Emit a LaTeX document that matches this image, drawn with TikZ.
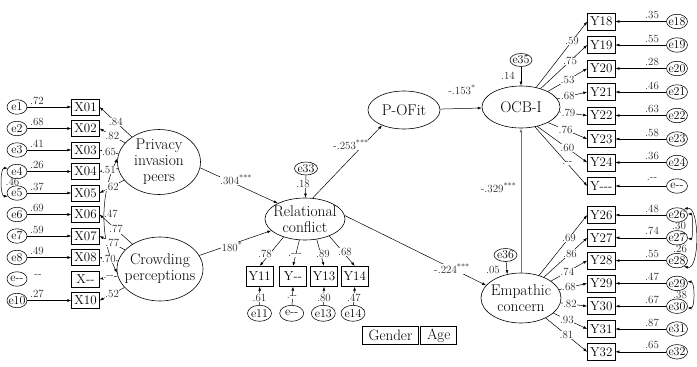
\documentclass[tikz,border=0pt]{standalone}
\usetikzlibrary{shapes.geometric,arrows.meta}
\begin{document}
\begin{tikzpicture}[x=1pt,y=-1pt,
  >={Latex[length=4pt,width=2.8pt]},
  lat/.style={draw, ellipse, inner sep=0pt, line width=0.6pt},
  lt/.style={font=\fontsize{15.5}{16}\selectfont, align=center, inner sep=0pt},
  obs/.style={draw, rectangle, inner sep=0pt, minimum width=27.5pt, minimum height=16pt, line width=0.6pt, font=\fontsize{13}{13}\selectfont},
  errn/.style={draw, ellipse, inner sep=0pt, minimum width=21pt, minimum height=14.5pt, line width=0.55pt, font=\fontsize{12}{12}\selectfont},
  coef/.style={font=\fontsize{11}{11}\selectfont, inner sep=0.4pt, text=black!85},
  coefw/.style={coef, fill=white},
  arr/.style={->, line width=0.5pt},
  darr/.style={<->, line width=0.5pt},
  grayarr/.style={->, line width=0.9pt, draw=black!55}
]
\useasboundingbox (0,0) rectangle (697,367);

% ---------- latent variables ----------
\node[lat, minimum width=83, minimum height=65] (priv) at (159,162) {};
\node[lt] at (priv) {Privacy\\invasion\\peers};
\node[lat, minimum width=86, minimum height=64] (crowd) at (160,269) {};
\node[lt] at (crowd) {Crowding\\perceptions};
\node[lat, minimum width=80, minimum height=42] (rel) at (305,219) {};
\node[lt] at (rel) {Relational\\conflict};
\node[lat, minimum width=72, minimum height=38] (pof) at (404,110) {};
\node[lt] at (pof) {P-OFit};
\node[lat, minimum width=78, minimum height=42] (ocb) at (521,107) {};
\node[lt] at (ocb) {OCB-I};
\node[lat, minimum width=80, minimum height=50] (emp) at (521,298) {};
\node[lt] at (emp) {Empathic\\concern};

% ---------- left column ----------
\foreach \i/\el/\xl/\c in {1/e1/X01/.72, 2/e2/X02/.68, 3/e3/X03/.41, 4/e4/X04/.26, 5/e5/X05/.37, 6/e6/X06/.69, 7/e7/X07/.59, 8/e8/X08/.49, 9/e-{}-/X-{}-/, 10/e10/X10/.27}{
  \pgfmathsetmacro\yy{107+(\i-1)*21.5}
  \node[obs] (x\i) at (85.5,\yy) {\xl};
  \node[errn, minimum width=20] (e\i) at (17,\yy) {\makebox[0pt]{\el}};
  \node[coef] at (37,\yy-6.5) {\c};
}
\foreach \i in {1,2,3,4,5,6,7,8,10} \draw[arr] (e\i) -- (x\i);
\node[coef] at (38,276) {-{}-};
\draw[darr] (e4.160) .. controls (0,168) and (0,196) .. (e5.200);
\node[coef] at (12.5,182.3) {.46};

\draw[darr] (priv.175) .. controls (100,195) and (100,238) .. (crowd.185);
\node[coef] at (111,214) {.47};
\foreach \i/\c in {1/.84, 2/.82, 3/.65, 4/.51, 5/.62}
  \draw[arr] (priv) -- (x\i.east) node[coefw, pos=0.5] {\c};
\foreach \i/\c in {6/.77, 7/.77, 8/.70, 9/.-{}-, 10/.52}
  \draw[arr] (crowd) -- (x\i.east) node[coefw, pos=0.5] {\c};

% ---------- structural paths ----------
\draw[arr] (priv.-8) -- (rel.150);
\node[coefw] at (236,180) {.304\textsuperscript{***}};
\draw[arr] (crowd) -- (rel);
\node[coefw] at (232,247) {180\textsuperscript{*}};
\draw[arr] (rel.70) -- (pof.215);
\node[coefw] at (351,145) {-.253\textsuperscript{***}};
\draw[arr] (rel.5) -- (emp.160);
\node[coefw] at (452,269) {-.224\textsuperscript{***}};
\draw[arr] (pof) -- (ocb);
\node[coef] at (462,90) {-.153\textsuperscript{*}};
\draw[grayarr] (emp) -- (ocb);
\node[coef, anchor=east] at (517,188) {-.329\textsuperscript{***}};

% disturbances
\node[errn, minimum width=23, minimum height=13] (e33) at (306,168.5) {\makebox[0pt]{e33}};
\draw[arr] (e33) -- (rel);
\node[coefw] at (303,184) {.18};
\node[errn, minimum width=22, minimum height=13] (e35) at (521,60) {\makebox[0pt]{e35}};
\draw[arr] (e35) -- (ocb);
\node[coef] at (508,76) {.14};
\node[errn, minimum width=23, minimum height=13] (e36) at (505.5,255) {\makebox[0pt]{e36}};
\draw[arr] (e36) -- (emp.120);
\node[coef] at (493,270) {.05};

% ---------- relational conflict indicators ----------
\node[obs, minimum height=20] (y11) at (259.7,276.3) {Y11};
\node[obs, minimum height=20] (ym) at (293,276.3) {Y-{}-};
\node[obs, minimum height=20] (y13) at (324,276.3) {Y13};
\node[obs, minimum height=20] (y14) at (354.8,276.3) {Y14};
\node[errn, minimum width=24, minimum height=16] (e11) at (259.5,313.3) {\makebox[0pt]{e11}};
\node[errn, minimum width=24, minimum height=16] (em) at (291.7,313.3) {\makebox[0pt]{e-{}-}};
\node[errn, minimum width=24, minimum height=16] (e13) at (323.3,313.3) {\makebox[0pt]{e13}};
\node[errn, minimum width=24, minimum height=16] (e14) at (353,313.3) {\makebox[0pt]{e14}};
\draw[arr] (rel.220) -- (y11.north);
\draw[arr] (rel.255) -- (ym.north);
\draw[arr] (rel.300) -- (y13.north);
\draw[arr] (rel.325) -- (y14.north);
\node[coefw] at (265,254) {.78};
\node[coefw] at (295,255) {.-{}-{}-};
\node[coefw] at (323,254) {.89};
\node[coefw] at (345,252) {.68};
\draw[arr] (e11) -- (y11.south);
\draw[arr] (em) -- (ym.south);
\draw[arr] (e13) -- (y13.south);
\draw[arr] (e14) -- (y14.south);
\node[coefw] at (259.5,297.5) {.61};
\node[coefw] at (292,297.5) {.-{}-};
\node[coefw] at (324,297.5) {.80};
\node[coefw] at (354,297.5) {.47};

% ---------- right column ----------
\foreach \i/\yl/\el/\c/\yy in {18/Y18/e18/.35/21.5, 19/Y19/e19/.55/45, 20/Y20/e20/.28/68.5, 21/Y21/e21/.46/92, 22/Y22/e22/.63/115.5, 23/Y23/e23/.58/139, 24/Y24/e24/.36/162.5, 25/Y-{}-{}-/e-{}-/.-{}-/186, 26/Y26/e26/.48/215, 27/Y27/e27/.74/237.8, 28/Y28/e28/.55/260.6, 29/Y29/e29/.47/283.4, 30/Y30/e30/.67/306.2, 31/Y31/e31/.87/329, 32/Y32/e32/.65/351.8}{
  \node[obs, minimum height=17] (y\i) at (601.3,\yy) {\yl};
  \node[errn] (e\i) at (677,\yy) {\makebox[0pt]{\el}};
  \draw[arr] (e\i) -- (y\i);
  \node[coef] at (652,\yy-6.5) {\c};
}
\foreach \i/\c/\p in {18/.59/0.7, 19/.75/0.63, 20/.53/0.5, 21/.68/0.35, 22/.79/0.33}
  \draw[arr] (ocb) -- (y\i.west) node[coefw, pos=\p] {\c};
\draw[arr] (ocb.-30) -- (y23.west) node[coefw, pos=0.45] {.76};
\draw[arr] (ocb.-50) -- (y24.west) node[coefw, pos=0.6] {.60};
\draw[arr] (ocb.-55) -- (y25.west) node[coefw, pos=0.62] {.-{}-};
\foreach \i/\c/\p in {26/.69/0.62, 27/.86/0.6, 28/.74/0.45, 29/.68/0.35, 30/.82/0.35, 31/.93/0.4, 32/.81/0.5}
  \draw[arr] (emp) -- (y\i.west) node[coefw, pos=\p] {\c};

% error covariances
\draw[darr] (e26.5) .. controls (693,214) and (693,239) .. (e27.-5);
\node[coef] at (679,226.4) {.30};
\draw[darr] (e26.40) .. controls (700,205) and (700,271) .. (e28.-40);
\node[coef] at (680,249.2) {.26};
\draw[darr] (e29.10) .. controls (695,282) and (695,308) .. (e30.-10);
\node[coef] at (680,294.8) {.38};

% ---------- controls ----------
\node[obs, minimum width=55.7, minimum height=17.3, font=\fontsize{15}{15}\selectfont] (gender) at (390.5,335.3) {Gender};
\node[obs, minimum width=36, minimum height=17.3, font=\fontsize{15}{15}\selectfont] (age) at (438.7,335.3) {Age};
\end{tikzpicture}
\end{document}
